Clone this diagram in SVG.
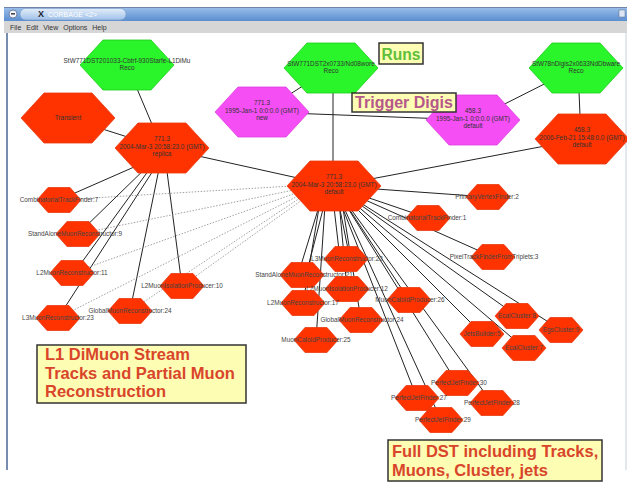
<svg xmlns="http://www.w3.org/2000/svg" xmlns:xlink="http://www.w3.org/1999/xlink" width="627" height="483" viewBox="0 0 627 483">
<defs>
<linearGradient id="tb" x1="0" y1="0" x2="0" y2="1"><stop offset="0" stop-color="#9cc0ea"/><stop offset="1" stop-color="#5b8fd0"/></linearGradient>
<linearGradient id="pill" x1="0" y1="0" x2="0" y2="1"><stop offset="0" stop-color="#e4eefa"/><stop offset="1" stop-color="#9fc0e8"/></linearGradient>
<polygon id="hexL" points="-47,0 -24,-25 24,-25 47,0 24,25 -24,25"/>
<polygon id="hexS" points="-22,0 -11,-12.5 11,-12.5 22,0 11,12.5 -11,12.5"/>
</defs>
<style>
.red{fill:#ff3300;stroke:#e83a10;stroke-width:0.8}
.grn{fill:#2af52a;stroke:#1ccc1c;stroke-width:0.8}
.mag{fill:#f44ef4;stroke:#e040e0;stroke-width:0.8}
.e{stroke:#222;stroke-width:1;fill:none}
.d{stroke:#8a8a8a;stroke-width:0.8;stroke-dasharray:1.5 1.5;fill:none}
.t{font-family:"Liberation Sans",Arial,sans-serif;font-size:6.4px;fill:#333;text-anchor:middle}
.lb{font-family:"Liberation Sans",Arial,sans-serif;font-size:6.4px;fill:#444;text-anchor:middle}
.box{fill:#fdfdb4;stroke:#333;stroke-width:1.5}
.ann{font-family:"Liberation Sans",Arial,sans-serif;font-weight:bold;font-size:16.5px;fill:#d9452a}
.menu{font-family:"Liberation Sans",Arial,sans-serif;font-size:7px;fill:#333;word-spacing:3px}
</style>
<rect width="627" height="483" fill="#fff"/>
<g id="window">
<rect x="4" y="7" width="623" height="14" fill="url(#tb)"/>
<line x1="4" y1="7.5" x2="627" y2="7.5" stroke="#6d86a8" stroke-width="1"/>
<rect x="20" y="8.5" width="106" height="11.5" rx="5.7" fill="url(#pill)" stroke="#7b9cc8" stroke-width="0.6"/>
<circle cx="13" cy="14" r="4" fill="#f4f6fa" stroke="#5a6f90" stroke-width="0.8"/>
<rect x="11" y="13" width="4" height="1.6" fill="#445"/>
<text x="38" y="17" font-family="'Liberation Sans',Arial,sans-serif" font-size="9" font-weight="bold" fill="#223">X</text>
<text x="48" y="16.8" font-family="'Liberation Sans',Arial,sans-serif" font-size="7" fill="#fff">CORBAGE &lt;2&gt;</text>
<rect x="619" y="10" width="6" height="7" fill="#dde6f2" stroke="#5a7090" stroke-width="0.5"/>
<rect x="4" y="21" width="623" height="12" fill="#d6d6d6"/>
<text class="menu" x="10" y="30">File Edit View Options Help</text>
<line x1="7" y1="33" x2="7" y2="470" stroke="#56709a" stroke-width="1.6"/>
<line x1="626" y1="33" x2="626" y2="470" stroke="#c8d0dc" stroke-width="1"/>
</g>
<g id="connectors">
<line class="e" x1="127" y1="65" x2="162" y2="148"/>
<line class="e" x1="68" y1="118" x2="162" y2="148"/>
<line class="e" x1="331" y1="68" x2="262" y2="112"/>
<line class="e" x1="333" y1="68" x2="333" y2="186"/>
<line class="e" x1="576" y1="68" x2="473" y2="120"/>
<line class="e" x1="578" y1="68" x2="581" y2="139"/>
<line class="e" x1="262" y1="112" x2="473" y2="120"/>
<line class="e" x1="334" y1="186" x2="162" y2="148"/>
<line class="e" x1="334" y1="186" x2="582" y2="139"/>
<line class="e" x1="150" y1="160" x2="59" y2="200"/>
<line class="e" x1="152" y1="162" x2="78" y2="234"/>
<line class="e" x1="154" y1="163" x2="74" y2="273"/>
<line class="e" x1="158" y1="163" x2="58" y2="318"/>
<line class="e" x1="160" y1="164" x2="130" y2="311"/>
<line class="e" x1="166" y1="164" x2="182" y2="286"/>
<line class="d" x1="292" y1="186" x2="59" y2="200"/>
<line class="d" x1="294" y1="190" x2="78" y2="234"/>
<line class="d" x1="296" y1="193" x2="72" y2="273"/>
<line class="d" x1="298" y1="196" x2="58" y2="318"/>
<line class="d" x1="300" y1="198" x2="130" y2="311"/>
<line class="d" x1="302" y1="200" x2="182" y2="286"/>
<line class="e" x1="334" y1="186" x2="488" y2="197"/>
<line class="e" x1="334" y1="186" x2="428" y2="218"/>
<line class="e" x1="334" y1="186" x2="493" y2="257"/>
<line class="e" x1="334" y1="186" x2="517" y2="316"/>
<line class="e" x1="334" y1="186" x2="561" y2="330"/>
<line class="e" x1="334" y1="186" x2="482" y2="334"/>
<line class="e" x1="334" y1="186" x2="524" y2="348"/>
<line class="e" x1="334" y1="186" x2="409" y2="300"/>
<line class="e" x1="334" y1="186" x2="457" y2="383"/>
<line class="e" x1="334" y1="186" x2="417" y2="398"/>
<line class="e" x1="334" y1="186" x2="492" y2="403"/>
<line class="e" x1="334" y1="186" x2="441" y2="420"/>
<line class="e" x1="332" y1="190" x2="340" y2="259"/>
<line class="e" x1="336" y1="190" x2="350" y2="259"/>
<line class="e" x1="324" y1="190" x2="298" y2="275"/>
<line class="e" x1="328" y1="190" x2="306" y2="275"/>
<line class="e" x1="338" y1="190" x2="347" y2="289"/>
<line class="e" x1="322" y1="190" x2="303" y2="303"/>
<line class="e" x1="340" y1="190" x2="361" y2="320"/>
<line class="e" x1="326" y1="190" x2="316" y2="340"/>
</g>
<g id="n-green1"><use href="#hexL" x="127" y="65" class="grn"/><text class="t" x="127" y="63">StW771DST201033-Cbtrf-930Starfe-L1DiMu</text><text class="t" x="127" y="70">Reco</text></g>
<g id="n-green2"><use href="#hexL" x="331" y="68" class="grn"/><text class="t" x="331" y="66">StW771DST2x0733/Nd08wore</text><text class="t" x="331" y="73">Reco</text></g>
<g id="n-green3"><use href="#hexL" x="576" y="68" class="grn"/><text class="t" x="576" y="66">StW78nDigis2x0633NdDbware</text><text class="t" x="576" y="73">Reco</text></g>
<g id="n-mag1"><use href="#hexL" x="262" y="112" class="mag"/><text class="t" x="262" y="105">771.3</text><text class="t" x="262" y="112.5">1995-Jan-1 0:0:0.0 (GMT)</text><text class="t" x="262" y="120">new</text></g>
<g id="n-mag2"><use href="#hexL" x="473" y="120" class="mag"/><text class="t" x="473" y="113">458.3</text><text class="t" x="473" y="120.5">1995-Jan-1 0:0:0.0 (GMT)</text><text class="t" x="473" y="128">default</text></g>
<g id="n-red458"><use href="#hexL" x="582" y="139" class="red"/><text class="t" x="582" y="132">458.3</text><text class="t" x="582" y="139.5">2006-Feb-21 15:48:0.0 (GMT)</text><text class="t" x="582" y="147">default</text></g>
<g id="n-transient"><use href="#hexL" x="68" y="118" class="red"/><text class="t" x="68" y="120">Transient</text></g>
<g id="n-replica"><use href="#hexL" x="162" y="148" class="red"/><text class="t" x="162" y="141">771.3</text><text class="t" x="162" y="148.5">2004-Mar-3 20:58:23.0 (GMT)</text><text class="t" x="162" y="156">replica</text></g>
<g id="n-central"><use href="#hexL" x="334" y="186" class="red"/><text class="t" x="334" y="179">771.3</text><text class="t" x="334" y="186.5">2004-Mar-3 20:58:23.0 (GMT)</text><text class="t" x="334" y="194">default</text></g>
<g id="n-comb7"><use href="#hexS" x="59" y="200" class="red"/><text class="lb" x="59" y="202">CombinatorialTrackFinder:7</text></g>
<g id="n-sa9"><use href="#hexS" x="78" y="234" class="red"/><text class="lb" x="75" y="236">StandAloneMuonReconstructor:9</text></g>
<g id="n-l2m11"><use href="#hexS" x="72" y="273" class="red"/><text class="lb" x="72" y="275">L2MuonReconstructor:11</text></g>
<g id="n-l3m23"><use href="#hexS" x="58" y="318" class="red"/><text class="lb" x="58" y="320">L3MuonReconstructor:23</text></g>
<g id="n-gm24a"><use href="#hexS" x="130" y="311" class="red"/><text class="lb" x="130" y="313">GlobalMuonReconstructor:24</text></g>
<g id="n-iso10"><use href="#hexS" x="182" y="286" class="red"/><text class="lb" x="182" y="288">L2MuonIsolationProducer:10</text></g>
<g id="n-pv2"><use href="#hexS" x="488" y="197" class="red"/><text class="lb" x="487" y="199">PrimaryVertexFinder:2</text></g>
<g id="n-comb1"><use href="#hexS" x="428" y="218" class="red"/><text class="lb" x="427" y="220">CombinatorialTrackFinder:1</text></g>
<g id="n-pix3"><use href="#hexS" x="493" y="257" class="red"/><text class="lb" x="494" y="259">PixelTrackFinderFromTriplets:3</text></g>
<g id="n-ec8"><use href="#hexS" x="517" y="316" class="red"/><text class="lb" x="517" y="318">EcalCluster:8</text></g>
<g id="n-ec9"><use href="#hexS" x="561" y="330" class="red"/><text class="lb" x="561" y="332">EgsCluster:9</text></g>
<g id="n-jb5"><use href="#hexS" x="482" y="334" class="red"/><text class="lb" x="482" y="336">JetsBuilder:5</text></g>
<g id="n-ec7"><use href="#hexS" x="524" y="348" class="red"/><text class="lb" x="524" y="350">EcalCluster:7</text></g>
<g id="n-mc26"><use href="#hexS" x="409" y="300" class="red"/><text class="lb" x="410" y="302">MuonCaloIdProducer:26</text></g>
<g id="n-j30"><use href="#hexS" x="457" y="383" class="red"/><text class="lb" x="459" y="385">PerfectJetFinder:30</text></g>
<g id="n-j27"><use href="#hexS" x="417" y="398" class="red"/><text class="lb" x="419" y="400">PerfectJetFinder:27</text></g>
<g id="n-j28"><use href="#hexS" x="492" y="403" class="red"/><text class="lb" x="492" y="405">PerfectJetFinder:28</text></g>
<g id="n-j29"><use href="#hexS" x="441" y="420" class="red"/><text class="lb" x="443" y="422">PerfectJetFinder:29</text></g>
<g id="n-l3m22"><use href="#hexS" x="346" y="259" class="red"/><text class="lb" x="347" y="261">L3MuonReconstructor:22</text></g>
<g id="n-sa21"><use href="#hexS" x="302" y="275" class="red"/><text class="lb" x="304" y="277">StandAloneMuonReconstructor:21</text></g>
<g id="n-iso12"><use href="#hexS" x="347" y="289" class="red"/><text class="lb" x="347" y="291">L2MuonIsolationProducer:12</text></g>
<g id="n-l2m17"><use href="#hexS" x="303" y="303" class="red"/><text class="lb" x="303" y="305">L2MuonReconstructor:17</text></g>
<g id="n-gm24b"><use href="#hexS" x="361" y="320" class="red"/><text class="lb" x="362" y="322">GlobalMuonReconstructor:24</text></g>
<g id="n-mc25"><use href="#hexS" x="316" y="340" class="red"/><text class="lb" x="316" y="342">MuonCaloIdProducer:25</text></g>
<g id="ann-runs"><rect class="box" x="379" y="43" width="44" height="21"/><text class="ann" x="401" y="60" text-anchor="middle" style="fill:#5fbf3a;font-size:15.6px">Runs</text></g>
<g id="ann-trigger"><rect class="box" x="352" y="93" width="104" height="19"/><text class="ann" x="404" y="108" text-anchor="middle" style="fill:#b5578a;font-size:16px">Trigger Digis</text></g>
<g id="ann-l1"><rect class="box" x="37" y="345" width="209" height="58"/><text class="ann" x="45" y="360">L1 DiMuon Stream</text><text class="ann" x="45" y="379">Tracks and Partial Muon</text><text class="ann" x="45" y="397">Reconstruction</text></g>
<g id="ann-dst"><rect class="box" x="388" y="440" width="214" height="41"/><text class="ann" x="392" y="457">Full DST including Tracks,</text><text class="ann" x="392" y="476">Muons, Cluster, jets</text></g>
</svg>
